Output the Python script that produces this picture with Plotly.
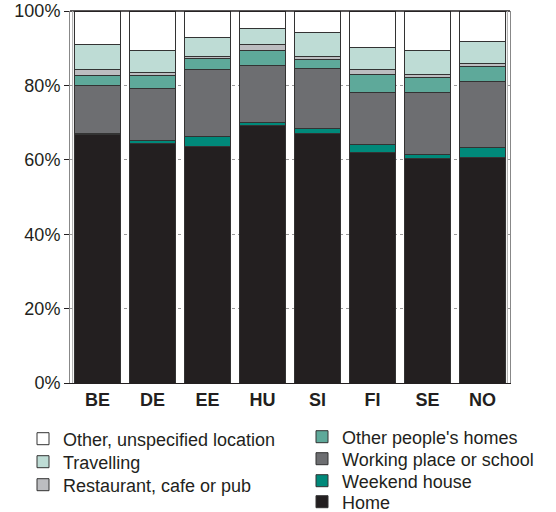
import plotly.graph_objects as go

countries = ["BE", "DE", "EE", "HU", "SI", "FI", "SE", "NO"]
home = [66.8, 64.3, 63.7, 69.3, 67.2, 61.9, 60.3, 60.5]
weekend_house = [0.2, 1.0, 2.6, 0.8, 1.3, 2.3, 1.0, 2.7]
working_place = [13.1, 13.8, 18.1, 15.2, 16.1, 13.8, 16.9, 17.8]
other_homes = [2.6, 3.6, 2.7, 4.0, 2.3, 5.0, 4.0, 4.0]
restaurant = [1.6, 0.8, 0.6, 1.6, 0.9, 1.3, 0.8, 0.8]
travelling = [6.6, 6.0, 5.1, 4.3, 6.3, 5.9, 6.4, 6.1]
other_location = [9.1, 10.5, 7.2, 4.8, 5.9, 9.8, 10.6, 8.1]

# name, values, colour, legend slot (left x px, row centre y px)
series = [
    ("Home", home, "#231f20", (302, 502)),
    ("Weekend house", weekend_house, "#00897a", (302, 481)),
    ("Working place or school", working_place, "#6d6e71", (302, 459)),
    ("Other people's homes", other_homes, "#5ea99a", (302, 437)),
    ("Restaurant, cafe or pub", restaurant, "#bcbdc0", (23, 485)),
    ("Travelling", travelling, "#bedcd5", (23, 462)),
    ("Other, unspecified location", other_location, "#ffffff", (23, 439)),
]

W, H = 556, 512
font = "Liberation Sans, Arial, sans-serif"

fig = go.Figure()
legend_layouts = {}
for i, (name, vals, color, (lx, ly)) in enumerate(series):
    key = "legend" if i == 0 else f"legend{i + 1}"
    fig.add_trace(go.Bar(
        x=countries, y=vals, name=name, legend=key,
        marker=dict(color=color, line=dict(color="#333333", width=1)),
    ))
    legend_layouts[key] = dict(
        x=lx / W, xref="container", xanchor="left",
        y=1 - ly / H, yref="container", yanchor="middle",
        font=dict(size=18, family=font, color="#231f20"),
        bgcolor="rgba(0,0,0,0)", itemwidth=30,
    )

fig.update_layout(
    barmode="stack",
    bargap=0.18,
    width=W, height=H,
    margin=dict(l=70, r=46, t=11, b=129, autoexpand=False),
    plot_bgcolor="white", paper_bgcolor="white",
    font=dict(family=font, size=18, color="#231f20"),
    showlegend=True,
    xaxis=dict(
        tickfont=dict(size=18, family=font, weight="bold"),
        showline=True, linecolor="#231f20", linewidth=1,
        ticks="", range=[-0.5, 7.5],
    ),
    yaxis=dict(
        range=[0, 100], tickvals=[0, 20, 40, 60, 80, 100],
        ticktext=["0%", "20%", "40%", "60%", "80%", "100%"],
        ticks="outside", ticklen=5, tickcolor="#231f20",
        showgrid=True, gridcolor="#9a9a9a", griddash="dot", gridwidth=1,
        showline=True, linecolor="#888888", linewidth=1, mirror=True,
        zeroline=False,
    ),
    **legend_layouts,
)
# top frame line and double side lines
fig.add_shape(type="line", xref="paper", yref="paper", x0=0, x1=1, y0=1, y1=1,
              line=dict(color="#231f20", width=1.5))
fig.add_shape(type="line", xref="paper", yref="paper", x0=0.006, x1=0.006, y0=0, y1=1,
              line=dict(color="#aaaaaa", width=1))
fig.add_shape(type="line", xref="paper", yref="paper", x0=0.994, x1=0.994, y0=0, y1=1,
              line=dict(color="#aaaaaa", width=1))

fig.write_html("out.html", config={"displayModeBar": False},
               post_script="document.body.style.margin='0px';")
